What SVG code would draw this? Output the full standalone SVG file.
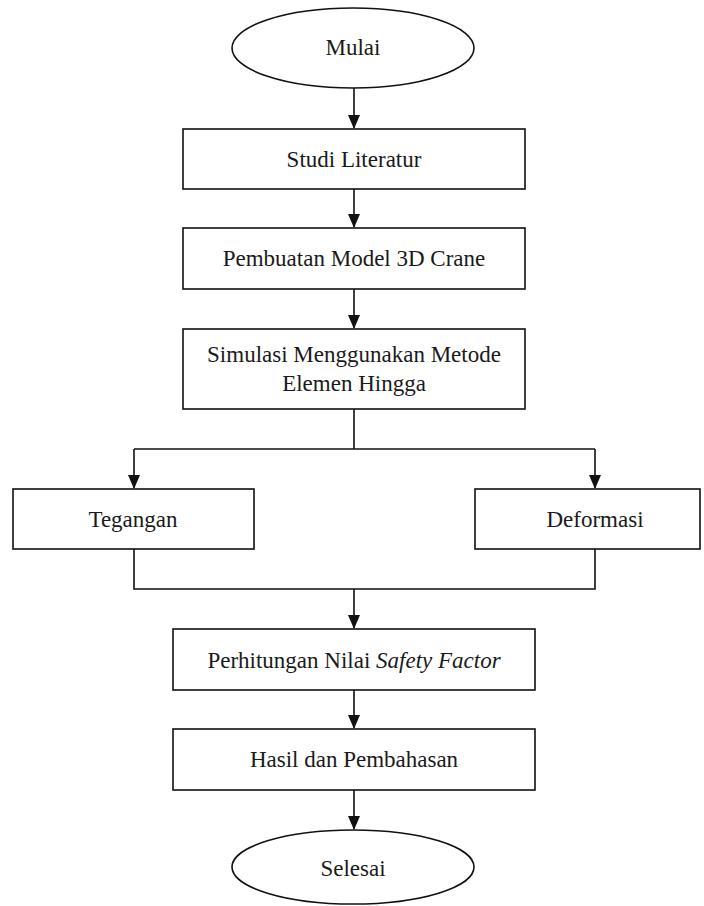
<svg xmlns="http://www.w3.org/2000/svg" width="704" height="906" viewBox="0 0 704 906">
<style>
.s{fill:#fff;stroke:#111;stroke-width:1.6}
.t{font-family:"Liberation Serif","Times New Roman",serif;font-size:23px;fill:#1a1a1a;text-anchor:middle}
.c{fill:none;stroke:#111;stroke-width:1.6}
</style>
<defs>
<marker id="ah" markerWidth="12" markerHeight="14" refX="6" refY="13" orient="0" markerUnits="userSpaceOnUse" viewBox="0 0 12 14">
<path d="M0,0 L12,0 L6,14 Z" fill="#111"/>
</marker>
</defs>
<rect width="704" height="906" fill="#fff"/>
<g id="connectors">
<path class="c" d="M354,88 V128" marker-end="url(#ah)"/>
<path class="c" d="M354,189 V227" marker-end="url(#ah)"/>
<path class="c" d="M354,289 V328" marker-end="url(#ah)"/>
<path class="c" d="M354,409 V449"/>
<path class="c" d="M134,449 H595"/>
<path class="c" d="M134,449 V488" marker-end="url(#ah)"/>
<path class="c" d="M595,449 V488" marker-end="url(#ah)"/>
<path class="c" d="M134,549 V589 H595 V549"/>
<path class="c" d="M354,589 V628" marker-end="url(#ah)"/>
<path class="c" d="M354,690 V728" marker-end="url(#ah)"/>
<path class="c" d="M354,790 V829" marker-end="url(#ah)"/>
</g>
<g id="mulai"><ellipse class="s" cx="353" cy="48" rx="121" ry="40"/><text class="t" x="353" y="55">Mulai</text></g>
<g id="studi"><rect class="s" x="183" y="129" width="342" height="60"/><text class="t" x="354" y="167">Studi Literatur</text></g>
<g id="pembuatan"><rect class="s" x="183" y="228" width="342" height="61"/><text class="t" x="354" y="266">Pembuatan Model 3D Crane</text></g>
<g id="simulasi"><rect class="s" x="183" y="329" width="342" height="80"/><text class="t" x="354" y="362">Simulasi Menggunakan Metode</text><text class="t" x="354" y="391">Elemen Hingga</text></g>
<g id="tegangan"><rect class="s" x="13" y="489" width="241" height="60"/><text class="t" x="133" y="527">Tegangan</text></g>
<g id="deformasi"><rect class="s" x="475" y="489" width="225" height="60"/><text class="t" x="595" y="527">Deformasi</text></g>
<g id="perhitungan"><rect class="s" x="173" y="629" width="362" height="61"/><text class="t" x="354" y="668">Perhitungan Nilai <tspan font-style="italic">Safety Factor</tspan></text></g>
<g id="hasil"><rect class="s" x="173" y="729" width="362" height="61"/><text class="t" x="354" y="767">Hasil dan Pembahasan</text></g>
<g id="selesai"><ellipse class="s" cx="353" cy="867" rx="121" ry="37"/><text class="t" x="353" y="876">Selesai</text></g>
</svg>
